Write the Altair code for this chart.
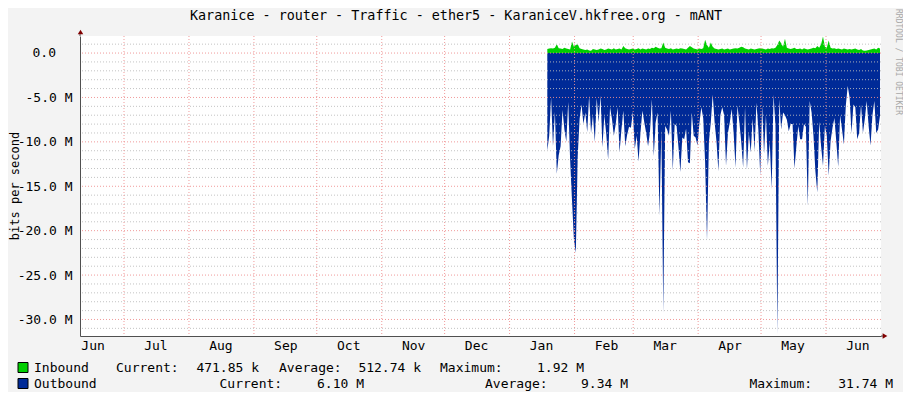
import altair as alt
import pandas as pd

FONT = "DejaVu Sans Mono"

title_text = "Karanice - router - Traffic - ether5 - KaraniceV.hkfree.org - mANT"
y_title = "bits per second"
watermark = "RRDTOOL / TOBI OETIKER"
series_names = ["Inbound", "Outbound"]
stat_names = ["Current:", "Average:", "Maximum:"]
inbound_stats = ["471.85 k", "512.74 k", "1.92 M"]
outbound_stats = ["6.10 M", "9.34 M", "31.74 M"]

# Mbit/s
inbound = [
    0.45, 0.5, 0.55, 0.5, 0.6, 1.0, 0.55, 0.5, 0.45, 0.6, 0.5, 0.45, 0.4, 1.3, 0.7, 0.9, 1.0, 0.55, 0.45, 0.4,
    0.35, 0.4, 0.3, 0.25, 0.45, 0.4, 0.35, 0.4, 0.5, 0.45, 0.35, 0.4, 0.5, 0.45, 0.4, 0.55, 0.4, 0.45, 0.5, 0.4,
    0.8, 0.55, 0.45,
    0.4, 0.45, 0.5, 0.4, 0.45, 0.55, 0.4, 0.5, 0.45, 0.4, 0.5, 0.45, 0.6, 0.55, 0.7, 0.6, 0.5, 0.55, 1.2, 0.6,
    0.5, 0.45, 0.55, 0.4, 0.45, 0.5, 0.45, 0.55, 0.5, 0.45, 0.4, 0.6, 0.8, 0.65, 0.5, 0.45, 0.4, 0.5, 0.45, 0.55,
    1.5, 0.9, 0.6, 1.2, 0.7,
    0.5, 0.45, 0.4, 0.45, 0.5, 0.4, 0.45, 0.5, 0.4, 0.45, 0.5, 0.55, 0.5, 0.6, 0.7, 0.65, 0.5, 0.45, 0.4, 0.5,
    0.45, 0.4, 0.45, 0.5, 0.55, 0.5, 0.45, 0.4, 0.5, 0.45, 0.55, 0.5, 0.6, 0.9, 1.4, 1.1, 0.7, 1.6, 0.6, 0.5,
    0.45, 0.5, 0.6, 0.45,
    0.45, 0.5, 0.4, 0.55, 0.45, 0.4, 0.45, 0.5, 0.6, 0.55, 0.8, 0.6, 1.0, 1.85, 0.7, 0.6, 1.4, 0.6, 0.5, 0.55,
    0.45, 0.5, 0.45, 0.4, 0.5, 0.45, 0.4, 0.45, 0.4, 0.45, 0.5, 0.4, 0.35, 0.45, 0.3, 0.25, 0.3, 0.35, 0.4, 0.45,
    0.5, 0.4, 0.6, 0.5,
]

outbound = [
    -11.0, -9.3, -5.0, -10.5, -6.6, -13.6, -11.5, -10.5, -6.4, -8.6, -10.0, -5.5, -12.0, -16.6, -21.0, -22.5,
    -11.6, -7.4, -5.8, -8.0, -6.7, -8.9, -4.8, -9.0, -7.0, -10.0, -5.1, -7.8, -4.8, -10.6, -7.0, -9.1, -12.0,
    -6.1, -7.4, -9.3, -8.0, -6.1, -11.2, -8.6, -6.5, -10.5, -9.2,
    -8.3, -8.4, -6.6, -10.8, -9.3, -12.2, -9.0, -6.5, -7.8, -9.0, -10.5, -8.9, -5.2, -11.6, -7.8, -6.7, -18.3,
    -8.6, -29.3, -8.2, -8.6, -9.3, -6.5, -13.2, -8.0, -8.2, -10.6, -13.4, -9.5, -9.7, -8.5, -12.3, -12.4, -6.7,
    -9.3, -9.5, -10.4, -7.9, -6.1, -7.3, -12.3, -21.1, -10.0, -7.8, -4.7,
    -7.8, -10.0, -13.3, -7.0, -6.1, -7.0, -12.7, -9.0, -7.8, -6.3, -9.0, -12.9, -5.9, -7.8, -10.0, -12.9, -6.1,
    -13.1, -9.0, -11.2, -7.4, -11.0, -5.6, -8.6, -13.8, -5.9, -11.3, -7.0, -12.7, -10.0, -15.3, -4.7, -8.2,
    -31.7, -5.2, -8.6, -6.7, -7.0, -7.5, -8.8, -8.0, -8.0, -13.0, -10.5, -8.2, -9.7,
    -9.7, -8.0, -8.3, -17.2, -5.4, -6.7, -9.3, -13.3, -15.7, -7.7, -10.5, -12.7, -8.2, -9.3, -13.8, -9.9, -8.4,
    -7.3, -10.0, -12.8, -7.0, -8.6, -10.3, -5.9, -3.7, -5.0, -9.0, -5.8, -6.1, -9.7, -9.0, -5.8, -9.0, -7.4,
    -5.4, -8.2, -10.4, -7.0, -5.4, -9.0, -8.6, -7.0,
]

data_start = "2013-01-19 00:00"
data_end = "2013-06-26 19:00"

minor_grid = [v for v in range(-31, 2) if v % 5 != 0]
major_grid = [-30, -25, -20, -15, -10, -5, 0]
month_starts = pd.date_range("2012-07-01", "2013-06-01", freq="MS")
label_months = [(2012, m) for m in range(6, 13)] + [(2013, m) for m in range(1, 7)]

df_in = pd.DataFrame({"t": pd.date_range(data_start, data_end, periods=len(inbound)), "v": inbound, "z": 0.0})
df_out = pd.DataFrame({"t": pd.date_range(data_start, data_end, periods=len(outbound)), "v": outbound, "z": 0.0})
df_minor = pd.DataFrame({"v": minor_grid})
df_major = pd.DataFrame({"v": major_grid})
df_zero = pd.DataFrame({"v": [0]})
df_months = pd.DataFrame({"t": month_starts})
dummy = pd.DataFrame({"a": [0]})

x_scale = alt.Scale(domain=[alt.DateTime(year=2012, month=6, date=10),
                            alt.DateTime(year=2013, month=6, date=27, hours=6)])
y_scale = alt.Scale(domain=[-31.86, 1.92], nice=False, zero=False)

y_label_expr = ("datum.value == 0 ? '' : "
                "(datum.value < 0 ? '-' : '') + format(abs(datum.value), '.1f') + ' M'")

x_axis = alt.Axis(values=[alt.DateTime(year=y, month=m, date=16) for y, m in label_months],
                  format="%b", grid=False, ticks=False, tickSize=0, labelPadding=3,
                  labelFont=FONT, labelFontSize=13, labelColor="#000000",
                  domainColor="#505050", title=None, labelFlush=False, labelOverlap=False)
y_axis = alt.Axis(values=major_grid, grid=False, ticks=False, tickSize=0, labelPadding=8,
                  labelFont=FONT, labelFontSize=13, labelColor="#000000",
                  labelExpr=y_label_expr, domainColor="#505050", title=None)


def txt(s, x, y, align="left", size=13, color="#000000", angle=0, baseline="middle"):
    return alt.Chart(dummy).mark_text(text=s, align=align, baseline=baseline, font=FONT,
                                      fontSize=size, color=color, angle=angle).encode(
        x=alt.value(x), y=alt.value(y))


def box(color, y0):
    return alt.Chart(dummy).mark_rect(color=color, stroke="#000000", strokeWidth=1).encode(
        x=alt.value(-62), x2=alt.value(-52), y=alt.value(y0), y2=alt.value(y0 + 10))


y_title_mark = txt(y_title, -60.6, 150, align="center", size=12, angle=270, baseline="alphabetic")

in_area = alt.Chart(df_in).mark_area(color="#00CF00", interpolate="linear").encode(
    x=alt.X("t:T", scale=x_scale, axis=x_axis),
    y=alt.Y("v:Q", scale=y_scale, axis=y_axis),
    y2="z:Q",
)
out_area = alt.Chart(df_out).mark_area(color="#002A97", interpolate="linear").encode(
    x=alt.X("t:T", scale=x_scale),
    y=alt.Y("v:Q", scale=y_scale),
    y2="z:Q",
)

# the "0.0" label is padded by the blank unit column, as rrdtool does
zero_label = alt.Chart(df_zero).mark_text(text="0.0", align="right", baseline="middle", font=FONT,
                                          fontSize=13, color="#000000").encode(
    y=alt.Y("v:Q", scale=y_scale), x=alt.value(-24))

minor_rules = alt.Chart(df_minor).mark_rule(color="#BDBDBD", strokeDash=[1, 2], strokeWidth=1, opacity=0.9).encode(
    y=alt.Y("v:Q", scale=y_scale))
major_rules = alt.Chart(df_major).mark_rule(color="#EE8F8F", strokeDash=[1, 2], strokeWidth=1, opacity=0.9).encode(
    y=alt.Y("v:Q", scale=y_scale))
month_rules = alt.Chart(df_months).mark_rule(color="#EE8F8F", strokeDash=[1, 2], strokeWidth=1, opacity=0.9).encode(
    x=alt.X("t:T", scale=x_scale))

ARROW = "#800000"
y_ext = alt.Chart(dummy).mark_rule(color="#505050").encode(x=alt.value(0), y=alt.value(-3), y2=alt.value(0))
x_ext = alt.Chart(dummy).mark_rule(color="#505050").encode(x=alt.value(801), x2=alt.value(804), y=alt.value(300))
y_arrow = alt.Chart(dummy).mark_point(shape="triangle-up", filled=True, color=ARROW, size=30, opacity=1).encode(
    x=alt.value(0.5), y=alt.value(-4))
x_arrow = alt.Chart(dummy).mark_point(shape="triangle-right", filled=True, color=ARROW, size=30, opacity=1).encode(
    x=alt.value(805), y=alt.value(300))

layers = [
    in_area, y_title_mark, out_area, minor_rules, major_rules, month_rules, zero_label,
    y_ext, x_ext, y_arrow, x_arrow,
    txt(title_text, 376, -16.5, align="center", size=13.4, baseline="alphabetic"),
    txt(watermark, 818, 26, align="center", size=8, color="#A8A8A8", angle=90),
    box("#00CF00", 326.5), box("#002A97", 342.5),
    txt(series_names[0], -46, 332),
    txt(stat_names[0], 36, 332), txt(inbound_stats[0], 179, 332, align="right"),
    txt(stat_names[1], 199, 332), txt(inbound_stats[1], 341, 332, align="right"),
    txt(stat_names[2], 360, 332), txt(inbound_stats[2], 504, 332, align="right"),
    txt(series_names[1], -46, 348),
    txt(stat_names[0], 139.5, 348), txt(outbound_stats[0], 284, 348, align="right"),
    txt(stat_names[1], 405, 348), txt(outbound_stats[1], 548, 348, align="right"),
    txt(stat_names[2], 669.5, 348), txt(outbound_stats[2], 813, 348, align="right"),
]

chart = alt.layer(*layers).properties(
    width=801, height=300,
    padding={"left": 72, "top": 28, "right": 22, "bottom": 56},
    autosize=alt.AutoSizeParams(type="none"),
    background="#F3F3F3",
).configure_view(fill="#FFFFFF", stroke=None)

chart.save("out.html", embed_options={"renderer": "svg", "actions": False})
